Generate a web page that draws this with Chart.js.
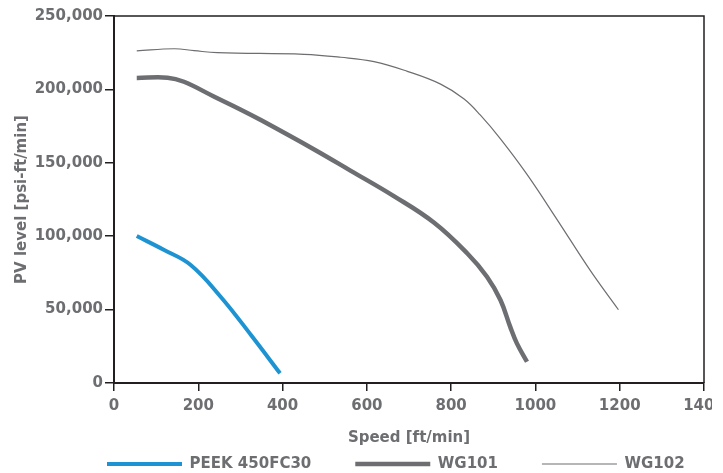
<!DOCTYPE html>
<html>
<head>
<meta charset="utf-8">
<script src="https://cdn.jsdelivr.net/npm/chart.js@4.4.1/dist/chart.umd.min.js"></script>
<style>
  html, body { margin: 0; padding: 0; background: #ffffff; }
  #wrap { width: 712px; height: 473px; }
</style>
</head>
<body>
<div id="wrap"><canvas id="c" width="712" height="473"></canvas></div>
<script>
// ---- Data ----
const seriesNames = ['PEEK 450FC30', 'WG101', 'WG102'];

const peekSpeed = [54, 119, 182, 253, 325, 394];
const peekPV    = [100100, 90600, 80400, 58800, 32700, 6600];

const wg101Speed = [54, 127, 166, 238, 301, 346, 475, 561, 664, 759, 838, 885, 917, 940, 956, 980];
const wg101PV    = [207800, 208000, 205200, 195000, 186200, 179500, 159100, 144700, 127300, 109300, 88400, 72400, 56500, 38400, 27000, 14500];

const wg102Speed = [54, 143, 190, 245, 451, 538, 617, 696, 775, 830, 869, 917, 980, 1051, 1130, 1197];
const wg102PV    = [226200, 227700, 226400, 225000, 223900, 221900, 218900, 212300, 203600, 193600, 182600, 166300, 142100, 111500, 76700, 49900];

const xTicks = [0, 200, 400, 600, 800, 1000, 1200, 1400];
const yTicks = [0, 50000, 100000, 150000, 200000, 250000];
const yTickLabels = ['0', '50,000', '100,000', '150,000', '200,000', '250,000'];
const xTitle = 'Speed [ft/min]';
const yTitle = 'PV level [psi-ft/min]';

// ---- Styling ----
const TEXT = '#6d6e71';
const AXIS = '#231f20';
const FONT = 'DejaVu Sans';

function pts(xs, ys) { return xs.map((x, i) => ({ x: x, y: ys[i] })); }

const framePlugin = {
  id: 'frame',
  beforeDatasetsDraw(chart) {
    const a = chart.chartArea, ctx = chart.ctx;
    ctx.save();
    ctx.strokeStyle = AXIS;
    ctx.lineWidth = 1.5;
    ctx.beginPath();
    ctx.moveTo(a.left, a.top);
    ctx.lineTo(a.right, a.top);
    ctx.lineTo(a.right, a.bottom);
    ctx.stroke();
    ctx.restore();
  }
};

const legendPlace = {
  id: 'legendPlace',
  afterLayout(chart) {
    const lg = chart.legend;
    if (!lg || !lg.lineWidths) return;
    const p = lg.options.labels.padding;
    const lw = lg.lineWidths[0];
    const startX = 107;
    lg.left = 0;
    lg.right = 2 * startX - p + lw;
    lg.top = 456.5 - p;
  }
};

new Chart(document.getElementById('c'), {
  type: 'line',
  data: {
    datasets: [
      { label: seriesNames[0], data: pts(peekSpeed, peekPV), borderColor: '#1e93d2', backgroundColor: '#1e93d2', borderWidth: 4 },
      { label: seriesNames[1], data: pts(wg101Speed, wg101PV), borderColor: '#6d6e71', backgroundColor: '#6d6e71', borderWidth: 4.5 },
      { label: seriesNames[2], data: pts(wg102Speed, wg102PV), borderColor: '#6d6e71', backgroundColor: '#6d6e71', borderWidth: 1.2 }
    ]
  },
  options: {
    responsive: false,
    animation: false,
    devicePixelRatio: 1,
    layout: { padding: { top: 16, right: 8, left: 0, bottom: 0 } },
    elements: {
      point: { radius: 0, hoverRadius: 0 },
      line: { tension: 0.4, borderCapStyle: 'butt', borderJoinStyle: 'round', fill: false }
    },
    scales: {
      x: {
        type: 'linear',
        min: 0, max: 1400,
        afterBuildTicks: s => { s.ticks = xTicks.map(v => ({ value: v })); },
        afterFit: s => { s.height = 64; s.paddingRight = 0; },
        border: { color: AXIS, width: 2 },
        grid: { display: true, drawOnChartArea: false, drawTicks: true, tickLength: 8, color: AXIS, lineWidth: 1.5 },
        ticks: { color: TEXT, font: { family: FONT, size: 15, weight: 'bold' }, padding: 6, maxRotation: 0, autoSkip: false,
                 callback: v => String(v) },
        title: { display: true, text: xTitle, color: TEXT, font: { family: FONT, size: 15, weight: 'bold' }, padding: { top: 0, bottom: 0 } }
      },
      y: {
        type: 'linear',
        min: 0, max: 250000,
        afterBuildTicks: s => { s.ticks = yTicks.map(v => ({ value: v })); },
        afterFit: s => { s.width = 114; },
        border: { color: AXIS, width: 2 },
        grid: { display: true, drawOnChartArea: false, drawTicks: true, tickLength: 9, color: AXIS, lineWidth: 1.5 },
        ticks: { color: TEXT, font: { family: FONT, size: 15, weight: 'bold' }, padding: 2,
                 callback: v => yTickLabels[yTicks.indexOf(v)] },
        title: { display: true, text: yTitle, color: TEXT, font: { family: FONT, size: 15, weight: 'bold' }, padding: { top: 13, bottom: 0 } }
      }
    },
    plugins: {
      tooltip: { enabled: false },
      legend: {
        display: true,
        position: 'bottom',
        maxHeight: 26,
        labels: {
          usePointStyle: true,
          pointStyle: 'line',
          pointStyleWidth: 75,
          padding: 44,
          color: TEXT,
          font: { family: FONT, size: 15, weight: 'bold' }
        }
      }
    }
  },
  plugins: [framePlugin, legendPlace]
});
</script>
</body>
</html>
